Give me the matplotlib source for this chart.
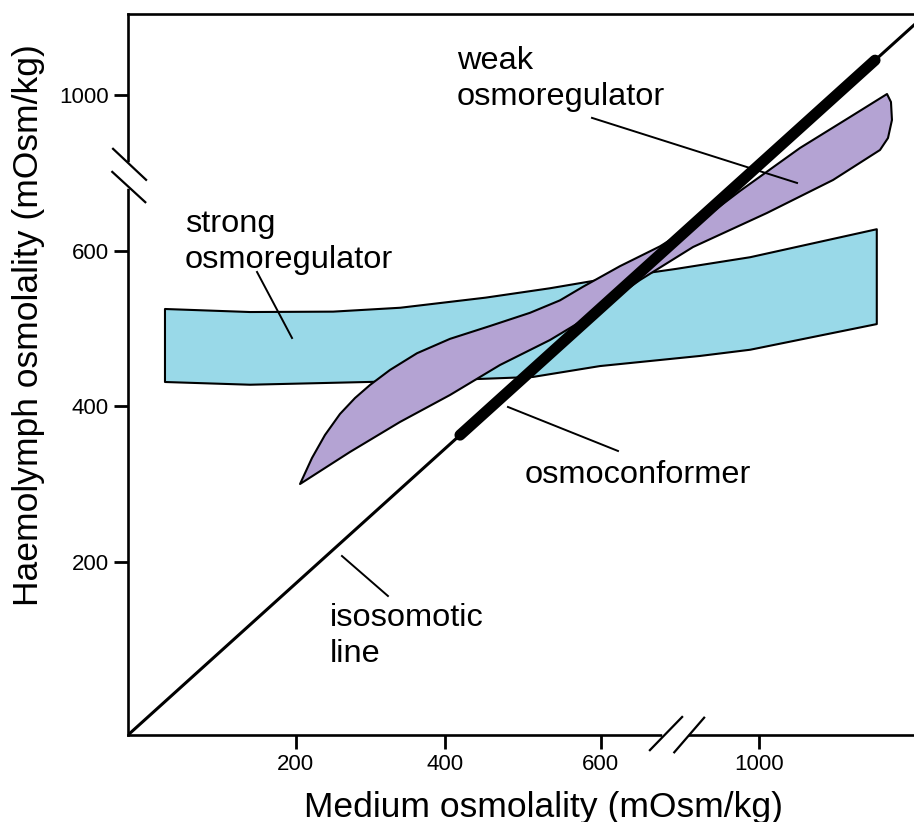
import matplotlib
matplotlib.use("Agg")
import matplotlib.pyplot as plt

plt.rcParams['font.family'] = ['Liberation Sans', 'DejaVu Sans']

# axis ticks (the upper value sits beyond a break in each axis)
x_ticks = [201, 397, 601, 809]
x_tick_labels = ['200', '400', '600', '1000']
y_ticks = [200, 400, 600, 801]
y_tick_labels = ['200', '400', '600', '1000']

# strong osmoregulator band: upper edge left->right, lower edge right->left
strong_top_x = [29.5, 141, 250, 338, 450, 534, 600, 700, 797, 963]
strong_top_y = [525.4, 521.5, 522, 527, 540, 552, 563, 577, 592, 628]
strong_bot_x = [963, 797, 731, 600, 512, 403, 229, 141, 29.5]
strong_bot_y = [506, 473, 465, 452, 438, 434, 430, 428, 431.5]

# weak osmoregulator lens, traced round from the lower-left tip
weak_x = [206.6, 222.3, 239.3, 259.0, 278.7, 298.4, 324.6, 360.0, 403.3, 455.7,
          508.2, 547.5, 577.7, 626.2, 678.7, 731.1, 783.6, 862.3, 927.9, 976.4,
          981.6, 982.9, 977.7, 967.2, 905.6, 819.0, 722.0, 652.5, 573.8, 534.4,
          468.9, 403.3, 337.7, 272.1]
weak_y = [300.3, 333.8, 363.3, 390.4, 410.9, 427.7, 447.0, 468.5, 487.0, 503.5,
          520.5, 536.5, 554.0, 580.5, 606.0, 638.0, 677.2, 732.5, 772.3, 801.9,
          791.6, 768.5, 745.3, 729.9, 691.3, 648.9, 605.1, 562.7, 508.7, 485.5,
          453.4, 414.8, 380.1, 341.5]

# isosmotic line and the osmoconformer stretch along it
iso_x = [-19, 1012]
iso_y = [-22.5, 890.8]
conf_x = [416.4, 960.7]
conf_y = [363.2, 845.4]

# labels: (text, x, y of last baseline) and leader lines
labels = [
    ('weak\nosmoregulator', 412.5, 787.8),
    ('strong\nosmoregulator', 55.7, 578.1),
    ('osmoconformer', 501.6, 301.6),
    ('isosomotic\nline', 245.9, 71.4),
]
leaders = [
    ([589.5, 858.4], [771.2, 687.5]),
    ([150.2, 196.1], [573.0, 488.1]),
    ([479.3, 623.6], [399.4, 342.8]),
    ([261.6, 321.9], [207.7, 156.3]),
]

fig = plt.figure(figsize=(9.14, 8.22), dpi=100)
ax = fig.add_axes([128 / 914, 87 / 822, 786 / 914, 721 / 822])
ax.set_xlim(-19, 1011.8)
ax.set_ylim(-22.5, 904.8)

ax.fill(strong_top_x + strong_bot_x, strong_top_y + strong_bot_y,
        facecolor='#99d9e8', edgecolor='black', lw=1.5, zorder=1,
        joinstyle='round')
ax.fill(weak_x, weak_y, facecolor='#b4a3d3', edgecolor='black', lw=1.5,
        zorder=2, joinstyle='round')

ax.plot(iso_x, iso_y, color='black', lw=2.2, zorder=3)
ax.plot(conf_x, conf_y, color='black', lw=8, solid_capstyle='round', zorder=4)

for lx, ly in leaders:
    ax.plot(lx, ly, color='black', lw=1.4, zorder=3)

for txt, tx, ty in labels:
    ax.text(tx, ty, txt, fontsize=23.4, ha='left', va='baseline',
            linespacing=1.25, zorder=5)

# frame: no right spine
for side in ['left', 'bottom', 'top']:
    ax.spines[side].set_linewidth(1.9)
ax.spines['right'].set_visible(False)

ax.set_xticks(x_ticks)
ax.set_xticklabels(x_tick_labels)
ax.set_yticks(y_ticks)
ax.set_yticklabels(y_tick_labels)
ax.tick_params(direction='out', length=10, width=2, labelsize=16, pad=4)

ax.set_xlabel('Medium osmolality (mOsm/kg)', fontsize=25.5)
ax.xaxis.set_label_coords(0.528, -0.077)
ax.set_ylabel('Haemolymph osmolality (mOsm/kg)', fontsize=25.5)
ax.yaxis.set_label_coords(-0.106, 0.569)

# axis breaks: blank out part of the spine and draw two slashes
tr = ax.transAxes
ax.plot([0, 0], [0.761, 0.791], color='white', lw=4, transform=tr,
        clip_on=False, zorder=6)
ax.plot([-0.019, 0.023], [0.813, 0.770], color='black', lw=1.6, transform=tr,
        clip_on=False, zorder=7)
ax.plot([-0.020, 0.022], [0.781, 0.739], color='black', lw=1.6, transform=tr,
        clip_on=False, zorder=7)
ax.plot([0.683, 0.710], [0, 0], color='white', lw=4, transform=tr,
        clip_on=False, zorder=6)
ax.plot([0.664, 0.705], [-0.021, 0.025], color='black', lw=1.6, transform=tr,
        clip_on=False, zorder=7)
ax.plot([0.695, 0.733], [-0.024, 0.024], color='black', lw=1.6, transform=tr,
        clip_on=False, zorder=7)

fig.savefig('out.png', dpi=100)
